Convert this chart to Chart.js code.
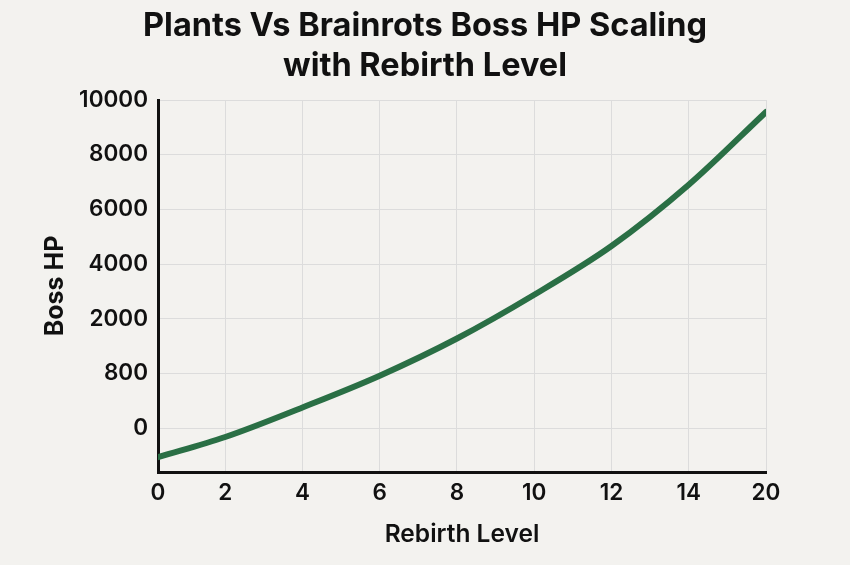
<!DOCTYPE html>
<html>
<head>
<meta charset="utf-8">
<script src="https://cdn.jsdelivr.net/npm/chart.js@4/dist/chart.umd.min.js"></script>
<style>
  html, body { margin: 0; padding: 0; background: #f3f2ef; }
  #wrap { width: 850px; height: 565px; }
</style>
</head>
<body>
<div id="wrap"><canvas id="c" width="850" height="565"></canvas></div>
<script>
// Tick labels exactly as printed on the reference (they are not evenly valued)
const rebirthTickLabels = ['0', '2', '4', '6', '8', '10', '12', '14', '20'];
const bossHpTickLabels = ['0', '800', '2000', '4000', '6000', '8000', '10000'];
// Curve height read at each rebirth tick, in units of the printed HP tick rows
const bossHpCurve = [-0.53, -0.16, 0.38, 0.96, 1.64, 2.44, 3.33, 4.45, 5.78];

const X_ORIGIN = -0.87;   // the "0" tick sits closer to "2" than the others
const Y_ORIGIN = -0.8;    // axis floor lies below the "0" row

const points = bossHpCurve.map((v, i) => ({ x: i === 0 ? X_ORIGIN : i - 1, y: v }));

const bgPlugin = {
  id: 'bg',
  beforeDraw(chart) {
    const ctx = chart.ctx;
    ctx.save();
    ctx.fillStyle = '#f3f2ef';
    ctx.fillRect(0, 0, chart.width, chart.height);
    ctx.restore();
  }
};

const FAMILY = 'Inter, "Liberation Sans", sans-serif';
const tickFont = { family: FAMILY, size: 22.5, weight: '600' };

new Chart(document.getElementById('c'), {
  type: 'line',
  data: {
    datasets: [{
      data: points,
      borderColor: '#2a6f45',
      borderWidth: 6,
      pointRadius: 0,
      cubicInterpolationMode: 'monotone',
      borderCapStyle: 'round',
      fill: false
    }]
  },
  plugins: [bgPlugin],
  options: {
    responsive: false,
    animation: false,
    layout: { padding: 0 },
    plugins: {
      legend: { display: false },
      tooltip: { enabled: false },
      title: {
        display: true,
        text: ['Plants Vs Brainrots Boss HP Scaling', 'with Rebirth Level'],
        color: '#111111',
        font: { family: FAMILY, size: 32.5, weight: '700', lineHeight: 40 / 32.5 },
        padding: { top: 6, bottom: 14 }
      }
    },
    scales: {
      x: {
        type: 'linear',
        min: X_ORIGIN,
        max: rebirthTickLabels.length - 2,
        afterBuildTicks(axis) {
          axis.ticks = rebirthTickLabels.map((_, i) => ({ value: i === 0 ? X_ORIGIN : i - 1 }));
        },
        afterFit(axis) { axis.height = 93; },
        ticks: {
          autoSkip: false,
          maxRotation: 0,
          padding: 8,
          color: '#111111',
          font: tickFont,
          callback: (v, i) => rebirthTickLabels[i]
        },
        grid: { color: '#dcdcdc', lineWidth: 1, drawTicks: false },
        border: { display: true, color: '#111111', width: 3 },
        title: {
          display: true,
          text: 'Rebirth Level',
          color: '#111111',
          font: { family: FAMILY, size: 24.5, weight: '600' },
          padding: { top: 0, bottom: 16 }
        }
      },
      y: {
        type: 'linear',
        min: Y_ORIGIN,
        max: bossHpTickLabels.length - 1,
        afterBuildTicks(axis) {
          axis.ticks = bossHpTickLabels.map((_, i) => ({ value: i }));
        },
        afterFit(axis) { axis.width = 158; },
        ticks: {
          autoSkip: false,
          padding: 10,
          color: '#111111',
          font: tickFont,
          callback: (v, i) => bossHpTickLabels[i]
        },
        grid: { color: '#dcdcdc', lineWidth: 1, drawTicks: false },
        border: { display: true, color: '#111111', width: 3 },
        title: {
          display: true,
          text: 'Boss HP',
          color: '#111111',
          font: { family: FAMILY, size: 25, weight: '700' },
          padding: { top: 40, bottom: 0 }
        }
      },
      rightSpace: {
        type: 'linear',
        position: 'right',
        display: true,
        afterFit(axis) { axis.width = 84; },
        grid: { display: false, drawTicks: false },
        border: { display: false },
        ticks: { display: false },
        title: { display: false }
      }
    }
  }
});
</script>
</body>
</html>
